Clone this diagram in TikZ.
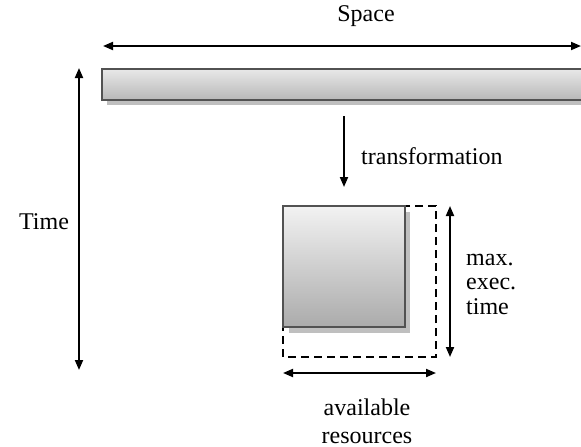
\documentclass[tikz,border=0pt]{standalone}
\usepackage{fontspec}
\setmainfont{Liberation Serif}
\usetikzlibrary{arrows.meta,shadows}
\begin{document}
\begin{tikzpicture}[x=1pt,y=-1pt,
  dim/.style={line width=1.9pt,{Triangle[length=10pt,width=8pt]}-{Triangle[length=10pt,width=8pt]}},
  flow/.style={line width=1.9pt,-{Triangle[length=10pt,width=8pt]}},
  block/.style={draw=black!68,line width=1.8pt},
  drop/.style={fill=black!25},
  label/.style={font=\fontsize{24}{28}\selectfont,inner sep=0pt}
]
\useasboundingbox (0,0) rectangle (581,447);
\clip (0,0) rectangle (581,447);

% space axis and the spatial bar
\coordinate (sl) at (103,46);
\coordinate (sr) at (581,46);
\draw[dim] (sl) -- (sr);
\node[label] (space) at (366,16) {Space};

\fill[drop] (107,74) rectangle (595,105);
\shade[top color=black!9,bottom color=black!28] (102,69) rectangle (595,100);
\draw[block] (102,69) rectangle (595,100);

% time axis
\coordinate (tt) at (79,68);
\coordinate (tb) at (79,370);
\draw[dim] (tt) -- (tb);
\node[label] (time) at (44,222) {Time};

% transformation
\coordinate (ft) at (344,116);
\coordinate (fb) at (344,187);
\draw[flow] (ft) -- (fb);
\node[label,anchor=west] (trans) at (361,156) {transformation};

% available envelope and the transformed block
\draw[line width=1.9pt,dash pattern=on 8pt off 5pt] (283,206) rectangle (436,357);
\fill[drop] (289,212) rectangle (410,333);
\shade[top color=black!5,bottom color=black!33] (283,206) rectangle (405,327);
\draw[block] (283,206) rectangle (405,327);

% limits
\coordinate (mt) at (450,206);
\coordinate (mb) at (450,357);
\draw[dim] (mt) -- (mb);
\node[label,anchor=west,align=left,font=\fontsize{24}{24.5}\selectfont] (maxt) at (466,284) {max.\\exec.\\time};

\coordinate (rl) at (283,373);
\coordinate (rr) at (436,373);
\draw[dim] (rl) -- (rr);
\node[label,align=center,font=\fontsize{24}{28}\selectfont] (res) at (367,421) {available\\resources};
\end{tikzpicture}
\end{document}
